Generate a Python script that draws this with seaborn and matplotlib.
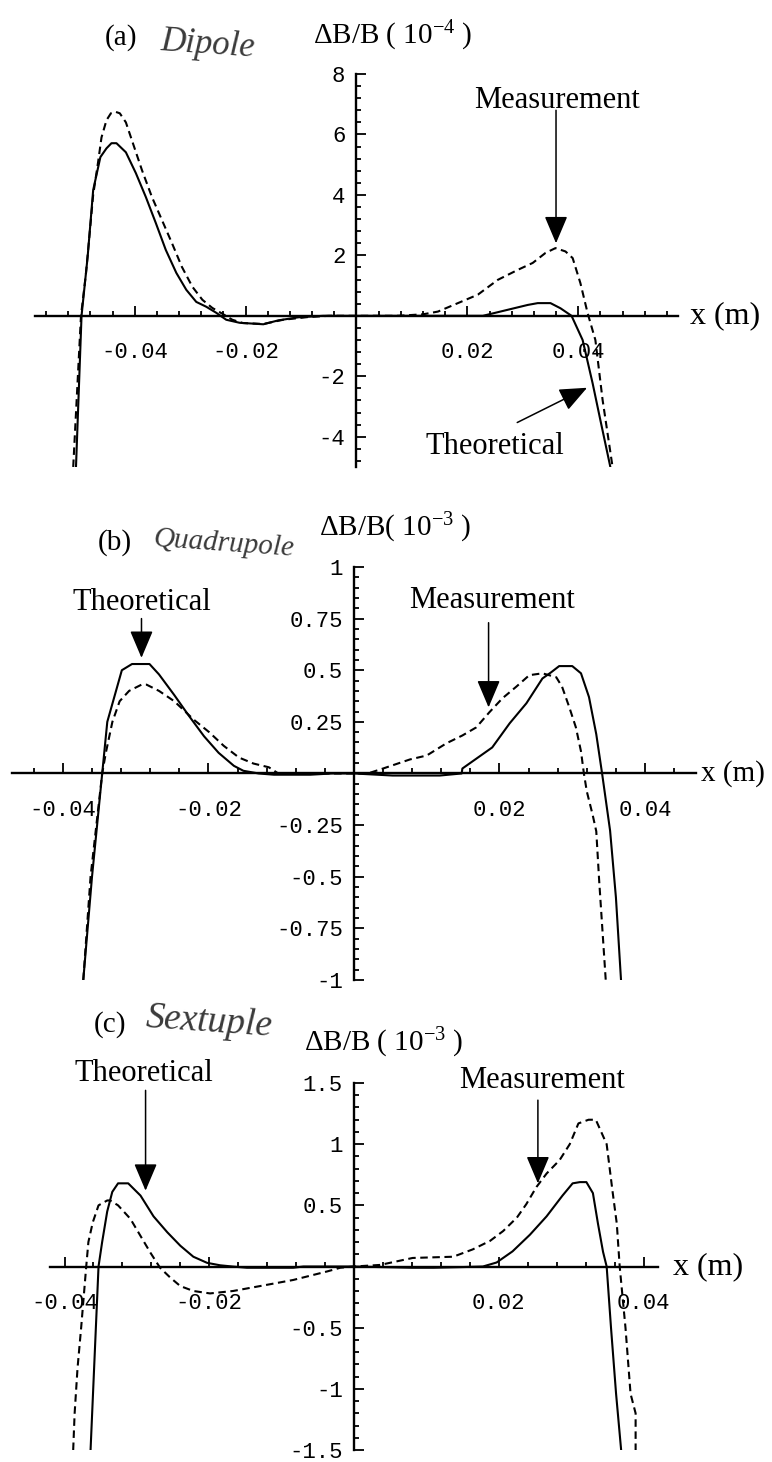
import matplotlib
matplotlib.use("Agg")
import matplotlib.pyplot as plt
import matplotlib.transforms as mtransforms
from matplotlib.ticker import MultipleLocator, FuncFormatter
import pandas as pd
import seaborn as sns

# ---- (a) dipole field error, dB/B in units of 1e-4 ----
dip_theo_x = [-0.0506, -0.0496, -0.0485, -0.0475, -0.0462, -0.0451, -0.0442, -0.0433,
              -0.0416, -0.0398, -0.038, -0.0362, -0.0344, -0.0325, -0.0307, -0.0289,
              -0.0271, -0.0253, -0.0235, -0.0211, -0.0168, -0.0141, -0.0105, -0.006,
              0.0, 0.0228, 0.0255, 0.0309, 0.0327, 0.035, 0.0368, 0.0388, 0.0408,
              0.0426, 0.044, 0.0458]
dip_theo_y = [-5.0, 0.0, 1.95, 4.16, 5.25, 5.54, 5.71, 5.71,
              5.41, 4.72, 3.93, 3.07, 2.18, 1.42, 0.86, 0.46,
              0.3, 0.1, -0.13, -0.23, -0.28, -0.15, -0.05, 0.0,
              0.0, 0.0, 0.12, 0.36, 0.42, 0.42, 0.25, 0.0, -0.8,
              -2.23, -3.45, -5.0]
dip_meas_x = [-0.0511, -0.0497, -0.0488, -0.0475, -0.0466, -0.046, -0.0451, -0.0443,
              -0.0435, -0.0427, -0.0416, -0.0405, -0.0387, -0.0369, -0.0351, -0.0333,
              -0.0315, -0.0296, -0.0278, -0.026, -0.0242, -0.0224, -0.0205, -0.0168,
              -0.0132, -0.0087, -0.005, 0.0, 0.0075, 0.012, 0.0147, 0.0183, 0.0219,
              0.0255, 0.0291, 0.0318, 0.0341, 0.0359, 0.0377, 0.039, 0.0404, 0.0417,
              0.0431, 0.0444, 0.0462]
dip_meas_y = [-5.0, 0.0, 1.4, 4.0, 5.1, 5.9, 6.47, 6.7,
              6.75, 6.7, 6.4, 5.8, 4.82, 3.93, 3.17, 2.41,
              1.62, 0.96, 0.53, 0.26, 0.07, -0.13, -0.24, -0.27,
              -0.13, -0.04, 0.0, 0.0, 0.0, 0.05, 0.14, 0.42, 0.7,
              1.19, 1.52, 1.75, 2.08, 2.24, 2.13, 1.91, 1.08, 0.09,
              -0.8, -2.78, -5.0]

# ---- (b) quadrupole field error, units of 1e-3 ----
quad_theo_x = [-0.0372, -0.036, -0.0346, -0.0339, -0.0319, -0.0305, -0.0281, -0.0268,
               -0.0247, -0.0227, -0.0206, -0.0186, -0.0165, -0.0152, -0.0131, -0.011,
               -0.006, -0.003, 0.0, 0.0053, 0.0118, 0.0148, 0.0149, 0.019, 0.0214,
               0.0237, 0.0259, 0.0271, 0.0282, 0.03, 0.0312, 0.0323, 0.0333, 0.0341,
               0.0352, 0.036, 0.0367]
quad_theo_y = [-1.0, -0.5, 0.0, 0.25, 0.5, 0.53, 0.53, 0.48,
               0.38, 0.28, 0.18, 0.1, 0.037, 0.013, 0.0, -0.006,
               -0.006, 0.0, 0.0, -0.01, -0.01, 0.0, 0.024, 0.126, 0.243,
               0.34, 0.46, 0.49, 0.52, 0.52, 0.485, 0.37, 0.19, 0.0,
               -0.277, -0.6, -1.0]
quad_meas_x = [-0.0372, -0.0362, -0.0346, -0.0341, -0.0332, -0.0322, -0.0309, -0.0292,
               -0.0285, -0.0268, -0.0247, -0.022, -0.0199, -0.0179, -0.0158, -0.0138,
               -0.0117, -0.0104, 0.0, 0.0019, 0.004, 0.0077, 0.01, 0.0127, 0.0149,
               0.0168, 0.0186, 0.0204, 0.0223, 0.0241, 0.0259, 0.0278, 0.0286, 0.0296,
               0.0305, 0.0312, 0.0316, 0.032, 0.0328, 0.0333, 0.0337, 0.0346]
quad_meas_y = [-1.0, -0.5, 0.0, 0.1, 0.25, 0.35, 0.4, 0.43,
               0.43, 0.4, 0.35, 0.26, 0.2, 0.134, 0.077, 0.048,
               0.03, 0.0, 0.0, 0.0, 0.024, 0.068, 0.087, 0.146, 0.184,
               0.223, 0.296, 0.364, 0.42, 0.476, 0.485, 0.466, 0.42, 0.32,
               0.223, 0.107, 0.0, -0.087, -0.2, -0.28, -0.52, -1.0]

# ---- (c) sextupole field error, units of 1e-3 ----
sext_theo_x = [-0.0364, -0.0353, -0.0348, -0.0341, -0.0334, -0.0326, -0.0312, -0.0295,
               -0.0277, -0.0258, -0.024, -0.0222, -0.0203, -0.0185, -0.0168, -0.0148,
               -0.0084, -0.007, 0.0, 0.008, 0.011, 0.0147, 0.0178, 0.0197, 0.0219,
               0.0243, 0.0266, 0.0288, 0.0302, 0.0312, 0.0321, 0.033, 0.0337, 0.0344,
               0.0349, 0.0355, 0.0362, 0.0369]
sext_theo_y = [-1.5, 0.0, 0.2, 0.45, 0.61, 0.68, 0.68, 0.58,
               0.41, 0.28, 0.17, 0.08, 0.03, 0.01, 0.0, -0.01,
               -0.01, 0.0, 0.0, -0.01, -0.01, -0.005, 0.0, 0.033, 0.124,
               0.26, 0.41, 0.58, 0.68, 0.69, 0.69, 0.6, 0.35, 0.12,
               0.0, -0.5, -1.04, -1.5]
sext_meas_x = [-0.0388, -0.0386, -0.0382, -0.0377, -0.037, -0.0367, -0.0361, -0.0353,
               -0.0341, -0.0337, -0.0326, -0.0309, -0.0295, -0.0281, -0.0268, -0.0254,
               -0.024, -0.0222, -0.0199, -0.0167, -0.013, -0.0084, -0.0037, -0.0019,
               0.0, 0.0036, 0.0081, 0.0137, 0.0164, 0.0188, 0.0206, 0.0225, 0.0238,
               0.0252, 0.0266, 0.0284, 0.0298, 0.031, 0.0324, 0.0334, 0.0349, 0.0353,
               0.0357, 0.0363, 0.0367, 0.0375, 0.0382, 0.0389, 0.0389]
sext_meas_y = [-1.5, -1.2, -0.83, -0.5, 0.0, 0.2, 0.36, 0.5,
               0.54, 0.54, 0.5, 0.39, 0.25, 0.11, -0.01, -0.09,
               -0.16, -0.2, -0.22, -0.2, -0.16, -0.11, -0.04, -0.01,
               0.0, 0.013, 0.07, 0.08, 0.14, 0.21, 0.29, 0.4, 0.51,
               0.65, 0.76, 0.87, 1.0, 1.17, 1.2, 1.2, 1.0, 0.81,
               0.62, 0.35, 0.0, -0.5, -1.04, -1.2, -1.5]

sns.set_theme(style="white")
plt.rcParams["font.family"] = ["Liberation Serif", "DejaVu Serif"]
plt.rcParams["mathtext.fontset"] = "custom"
plt.rcParams["mathtext.rm"] = "Liberation Serif"
plt.rcParams["mathtext.it"] = "Liberation Serif:italic"

TICK_FONT = ["Liberation Mono", "DejaVu Sans Mono"]
INK = "black"
LABEL_SIZE = 22
HEAD_SIZE = 21


def tick_text(v, pos):
    return "" if abs(v) < 1e-9 else f"{v:g}"


def style_axes(ax, xlim, ylim, xmaj, xmin, ymaj, ymin, xm_off, xm_size=23):
    ax.set_xlim(*xlim)
    ax.set_ylim(*ylim)
    ax.set_xlabel("")
    ax.set_ylabel("")
    ax.grid(False)
    ax.set_facecolor("none")
    for s in ("top", "right"):
        ax.spines[s].set_visible(False)
    for s in ("left", "bottom"):
        ax.spines[s].set_position(("data", 0))
        ax.spines[s].set_linewidth(1.7)
        ax.spines[s].set_color(INK)
        ax.spines[s].set_zorder(1)
    ax.xaxis.set_major_locator(MultipleLocator(xmaj))
    ax.xaxis.set_minor_locator(MultipleLocator(xmin))
    ax.yaxis.set_major_locator(MultipleLocator(ymaj))
    ax.yaxis.set_minor_locator(MultipleLocator(ymin))
    ax.xaxis.set_major_formatter(FuncFormatter(tick_text))
    ax.yaxis.set_major_formatter(FuncFormatter(tick_text))
    ax.tick_params(which="both", direction="in", color=INK, width=1.3,
                   bottom=True, left=True, top=False, right=False)
    ax.tick_params(which="major", length=7)
    ax.tick_params(which="minor", length=3.5)
    ax.tick_params(axis="x", which="major", pad=19, labelsize=16, labelcolor=INK)
    ax.tick_params(axis="y", which="major", pad=8, labelsize=16, labelcolor=INK)
    for lab in ax.get_xticklabels() + ax.get_yticklabels():
        lab.set_family(TICK_FONT)
    trans = mtransforms.blended_transform_factory(ax.transAxes, ax.transData)
    ax.text(1.0 + xm_off, 0, "x (m)", transform=trans, ha="left", va="center",
            fontsize=xm_size, color=INK)


def draw_curves(ax, tx, ty, mx, my):
    theo = pd.DataFrame({"x": tx, "dB": ty})
    meas = pd.DataFrame({"x": mx, "dB": my})
    sns.lineplot(data=theo, x="x", y="dB", sort=False, estimator=None,
                 color=INK, lw=1.5, ax=ax, zorder=3)
    sns.lineplot(data=meas, x="x", y="dB", sort=False, estimator=None,
                 color=INK, lw=1.5, ax=ax, zorder=3)
    ax.lines[-1].set_dashes([3.6, 2.2])


def pointer(ax, label, text_xy, tail, tip):
    ax.text(text_xy[0], text_xy[1], label, ha="center", va="center",
            fontsize=LABEL_SIZE, color=INK)
    ax.annotate("", xy=tip, xytext=tail,
                arrowprops=dict(arrowstyle="-|>,head_length=0.85,head_width=0.36",
                                mutation_scale=20, lw=1.1, color=INK,
                                shrinkA=0, shrinkB=0))


def heading(ax, tag, word, word_xy, word_size, tag_xy, quantity, q_xy):
    ax.text(tag_xy[0], tag_xy[1], tag, ha="left", va="center", fontsize=HEAD_SIZE,
            color=INK, clip_on=False)
    ax.text(word_xy[0], word_xy[1], word, ha="left", va="center", fontsize=word_size,
            style="italic", color="#3a3a3a", clip_on=False, rotation=-4)
    ax.text(q_xy[0], q_xy[1], quantity, ha="left", va="center", fontsize=HEAD_SIZE,
            color=INK, clip_on=False)


fig = plt.figure(figsize=(7.72, 14.62), dpi=100)
fig.patch.set_facecolor("white")

ax_a = fig.add_axes([0.0453, 0.6806, 0.8329, 0.2688])
ax_b = fig.add_axes([0.0155, 0.3297, 0.8860, 0.2825])
ax_c = fig.add_axes([0.0648, 0.00821, 0.7876, 0.2510])

# (a) dipole
draw_curves(ax_a, dip_theo_x, dip_theo_y, dip_meas_x, dip_meas_y)
style_axes(ax_a, (-0.058, 0.058), (-5, 8), 0.02, 0.004, 2, 0.4, 0.019)
pointer(ax_a, "Measurement", (0.0362, 7.13), (0.036, 6.8), (0.036, 2.4))
pointer(ax_a, "Theoretical", (0.0249, -4.32), (0.029, -3.53), (0.0416, -2.38))
heading(ax_a, "(a)", "Dipole", (-0.0355, 8.95), 25, (-0.0455, 9.2),
        r"ΔB/B ( 10$^{-4}$ )", (-0.0078, 9.27))

# (b) quadrupole
draw_curves(ax_b, quad_theo_x, quad_theo_y, quad_meas_x, quad_meas_y)
style_axes(ax_b, (-0.047, 0.047), (-1, 1), 0.02, 0.004, 0.25, 0.05, 0.008, 21)
pointer(ax_b, "Theoretical", (-0.0292, 0.83), (-0.0292, 0.75), (-0.0292, 0.56))
pointer(ax_b, "Measurement", (0.019, 0.84), (0.0185, 0.73), (0.0185, 0.32))
heading(ax_b, "(b)", "Quadrupole", (-0.0277, 1.11), 21, (-0.0352, 1.12),
        r"ΔB/B( 10$^{-3}$ )", (-0.0048, 1.19))

# (c) sextupole
draw_curves(ax_c, sext_theo_x, sext_theo_y, sext_meas_x, sext_meas_y)
style_axes(ax_c, (-0.042, 0.042), (-1.5, 1.5), 0.02, 0.004, 0.5, 0.1, 0.025)
pointer(ax_c, "Theoretical", (-0.029, 1.58), (-0.0288, 1.44), (-0.0288, 0.62))
pointer(ax_c, "Measurement", (0.0259, 1.52), (0.0254, 1.36), (0.0254, 0.68))
heading(ax_c, "(c)", "Sextuple", (-0.029, 2.0), 27, (-0.0359, 1.98),
        r"ΔB/B ( 10$^{-3}$ )", (-0.0069, 1.83))

fig.savefig("out.png", dpi=100, facecolor="white")
